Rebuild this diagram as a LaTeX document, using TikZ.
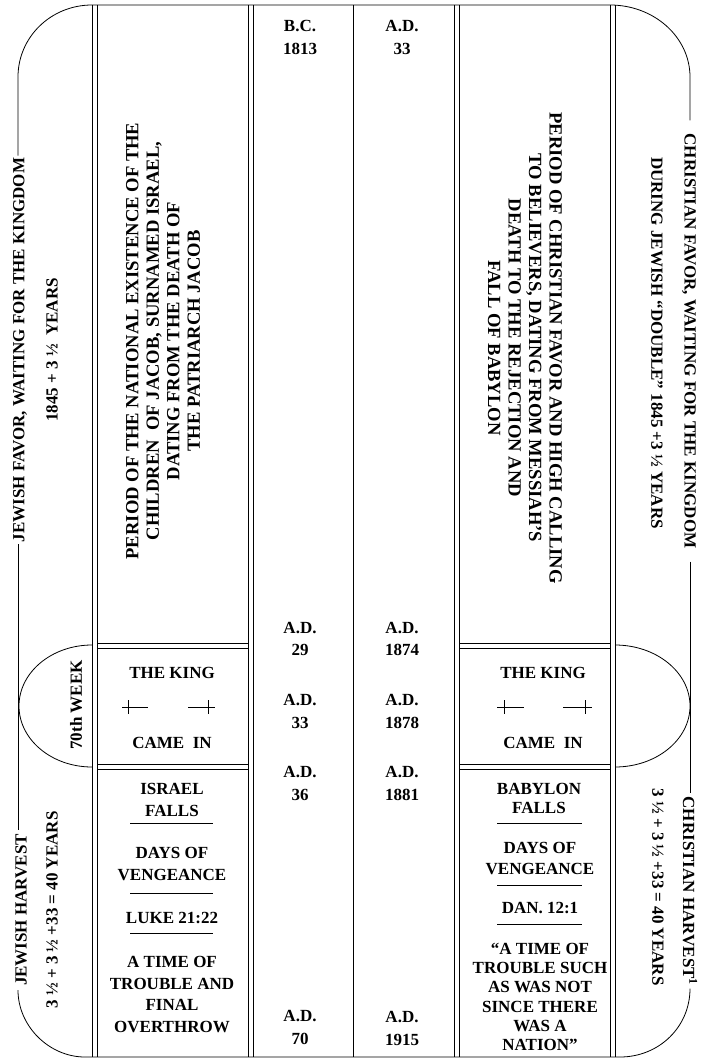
\documentclass[tikz,border=0pt]{standalone}
\usepackage{fontspec}
\setmainfont{Liberation Serif}
\begin{document}
\begin{tikzpicture}[x=1pt,y=-1pt,
  frame/.style={line width=0.8pt, black},
  rule/.style={line width=0.8pt, black},
  lbl/.style={font=\fontsize{17}{22.5}\selectfont\bfseries, align=center, inner sep=0pt},
  big/.style={font=\fontsize{18.6}{20.5}\selectfont\bfseries, align=center, inner sep=0pt},
  side/.style={font=\fontsize{17}{20}\selectfont\bfseries, inner ysep=0pt}]
\path[use as bounding box, fill=white] (0,0) rectangle (707,1059);
\coordinate (L) at (18,0);
\coordinate (R) at (690,0);

% ---- side labels ----
\node[side, rotate=90, inner xsep=2pt] (jfav) at (20,350) {JEWISH FAVOR, WAITING FOR THE KINGDOM};
\node[side, rotate=90] (jyrs) at (52,350) {1845 + 3 ½~~YEARS};
\node[side, rotate=90] (wk) at (76,705) {70th WEEK};
\node[side, rotate=90, inner xsep=4pt] (jharv) at (21,910) {JEWISH HARVEST};
\node[side, rotate=90] (jharvy) at (52,910) {3 ½ + 3 ½ +33 = 40 YEARS};
\node[side, rotate=-90, inner xsep=13pt] (cfav) at (689,341) {CHRISTIAN FAVOR, WAITING FOR THE KINGDOM};
\node[side, rotate=-90] (cdur) at (657,343) {DURING JEWISH “DOUBLE” 1845 +3 ½ YEARS};
\node[side, rotate=-90, inner xsep=3pt] (charv) at (690,891) {CHRISTIAN HARVEST\textsuperscript{1}};
\node[side, rotate=-90] (charvy) at (658,887) {3 ½ + 3 ½ +33 = 40 YEARS};

% ---- outer frame ----
\draw[frame] (92,5) .. controls (51,5) and (18,37) .. (18,77) -- (jfav.east -| L);
\draw[frame] (jfav.west -| L) -- (jharv.east -| L);
\draw[frame] (jharv.west -| L) .. controls (18,1026) and (49,1057) .. (85,1057) -- (620,1057)
   .. controls (659,1057) and (690,1027) .. (charv.east -| R);
\draw[frame] (cfav.east -| R) -- (charv.west -| R);
\draw[frame] (cfav.west -| R) -- (690,77) .. controls (690,37) and (654,5) .. (610,5) -- (92,5);

% ---- column lines ----
\foreach \x in {92,97,248,253,353,454,459,610,615}
  \draw[rule] (\x,5) -- (\x,1057);

% ---- horizontal double lines ----
\foreach \y in {643,648,764,769} {
  \draw[rule] (97,\y) -- (248,\y);
  \draw[rule] (459,\y) -- (610,\y);
}

% ---- 70th week half-ellipses ----
\draw[frame] (92,645) .. controls (51.7,645) and (19,672.3) .. (19,706)
   .. controls (19,739.7) and (51.7,767) .. (92,767);
\draw[frame] (615,645) .. controls (656.4,645) and (690,672.3) .. (690,706)
   .. controls (690,739.7) and (656.4,767) .. (615,767);

% ---- big rotated texts ----
\node[big, rotate=90] (p1) at (163,341) {PERIOD OF THE NATIONAL EXISTENCE OF THE\\CHILDREN~ OF JACOB, SURNAMED ISRAEL,\\DATING FROM THE DEATH OF\\THE PATRIARCH JACOB};
\node[big, rotate=-90] (p2) at (525,348) {PERIOD OF CHRISTIAN FAVOR AND HIGH CALLING\\TO BELIEVERS, DATING FROM MESSIAH'S\\DEATH TO THE REJECTION AND\\FALL OF BABYLON};

% ---- dates ----
\node[lbl] (d1) at (300,37.5) {B.C.\\1813};
\node[lbl] (d2) at (300,639) {A.D.\\29};
\node[lbl] (d3) at (300,711.5) {A.D.\\33};
\node[lbl] (d4) at (300,783.5) {A.D.\\36};
\node[lbl] (d5) at (300,1027.5) {A.D.\\70};
\node[lbl] (e1) at (402,37.5) {A.D.\\33};
\node[lbl] (e2) at (402,639) {A.D.\\1874};
\node[lbl] (e3) at (402,711.5) {A.D.\\1878};
\node[lbl] (e4) at (402,783.5) {A.D.\\1881};
\node[lbl] (e5) at (402,1028.5) {A.D.\\1915};

% ---- column 1 lower ----
\node[lbl] (k1) at (172,673) {THE KING};
\node[lbl] (k2) at (172,743) {CAME~~IN};
\node[lbl, font=\fontsize{17}{22}\selectfont\bfseries] (i1) at (172,800) {ISRAEL\\FALLS};
\node[lbl, font=\fontsize{17}{22}\selectfont\bfseries] (i2) at (172,864) {DAYS OF\\VENGEANCE};
\node[lbl] (i3) at (172,918) {LUKE 21:22};
\node[lbl, font=\fontsize{17}{21.7}\selectfont\bfseries] (i4) at (172,994.5) {A TIME OF\\TROUBLE AND\\FINAL\\OVERTHROW};
\draw[rule] (130,823) -- (213,823);
\draw[rule] (130,893) -- (213,893);
\draw[rule] (130,933) -- (213,933);

% ---- column 4 lower ----
\node[lbl] (k3) at (543,673) {THE KING};
\node[lbl] (k4) at (543,743) {CAME~~IN};
\node[lbl, font=\fontsize{17}{19.5}\selectfont\bfseries] (b1) at (539,798.5) {BABYLON\\FALLS};
\node[lbl, font=\fontsize{17}{21}\selectfont\bfseries] (b2) at (540,858.5) {DAYS OF\\VENGEANCE};
\node[lbl] (b3) at (540,908) {DAN. 12:1};
\node[lbl, font=\fontsize{17}{19.2}\selectfont\bfseries] (b4) at (540,997) {“A TIME OF\\TROUBLE SUCH\\AS WAS NOT\\SINCE THERE\\WAS A\\NATION”};
\draw[rule] (497,823) -- (582,823);
\draw[rule] (497,885) -- (582,885);
\draw[rule] (497,924) -- (582,924);

% ---- crosses ----
\draw[rule] (122,707) -- (148,707);
\draw[rule] (128,700) -- (128,714);
\draw[rule] (188,707) -- (215,707);
\draw[rule] (208,700) -- (208,714);
\draw[rule] (497,707) -- (524,707);
\draw[rule] (504,700) -- (504,714);
\draw[rule] (563,707) -- (592,707);
\draw[rule] (585,700) -- (585,714);
\end{tikzpicture}
\end{document}
